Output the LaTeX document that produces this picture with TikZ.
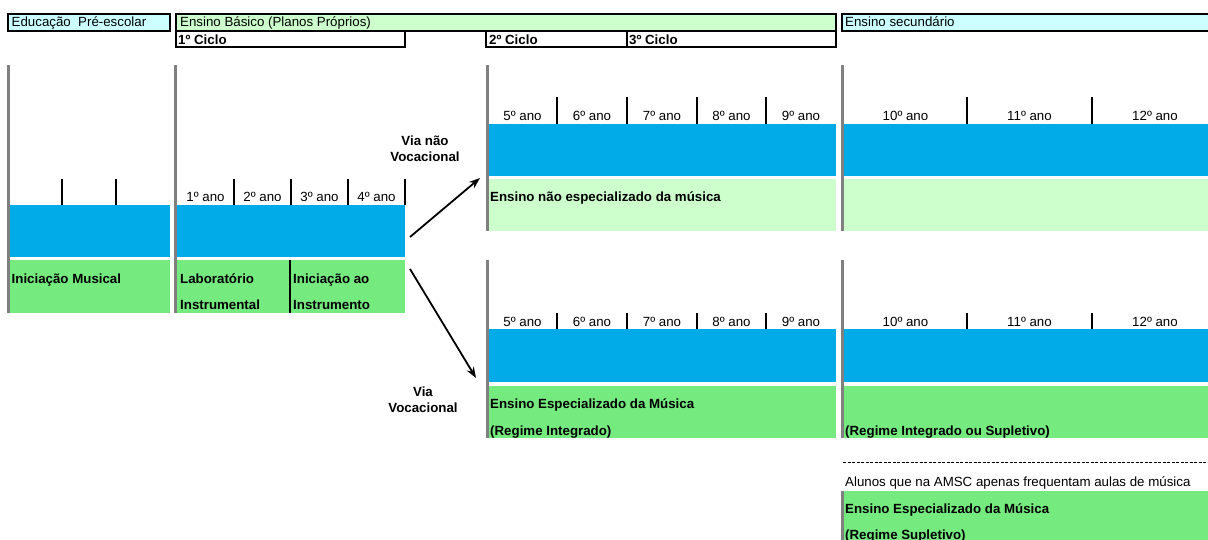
\documentclass[tikz,border=0pt]{standalone}
\usepackage{fontspec}
\setmainfont{Liberation Sans}
\usetikzlibrary{arrows.meta}

\definecolor{azul}{RGB}{0,171,231}
\definecolor{verde}{RGB}{117,234,126}
\definecolor{verdeclaro}{RGB}{204,255,204}
\definecolor{ciano}{RGB}{204,255,255}
\definecolor{cinza}{RGB}{128,128,128}

\begin{document}
\begin{tikzpicture}[x=1pt,y=-1pt,
  texto/.style={font=\fontsize{13.3}{15}\selectfont,inner sep=0pt,anchor=base west},
  negrito/.style={texto,font=\fontsize{13.3}{15}\selectfont\bfseries},
  ano/.style={texto,anchor=base},
  barra/.style={cinza,line width=3pt},
  marca/.style={black,line width=2pt},
  cabec/.style={draw=black,line width=1.8pt},
  seta/.style={line width=1.8pt,-{Stealth[length=11pt,width=8pt]}}]
  \useasboundingbox (0,0) rectangle (1208,539);
  \clip (0,0) rectangle (1208,539);

  \filldraw[cabec,fill=ciano] (8,14) rectangle (170,31);
  \filldraw[cabec,fill=verdeclaro] (176,14) rectangle (836,31);
  \filldraw[cabec,fill=ciano] (842,14) rectangle (1212,31);
  \draw[cabec] (176,31) rectangle (405,47);
  \draw[cabec] (486,31) rectangle (627,47) (627,31) rectangle (836,47);
  \node[texto] (pre) at (11.5,26.7) {Educação\ \ Pré-escolar};
  \node[texto] (basico) at (180,26.7) {Ensino Básico (Planos Próprios)};
  \node[texto] (secund) at (845,26.7) {Ensino secundário};
  \node[negrito] (ciclo1) at (178,44.3) {1º Ciclo};
  \node[negrito] (ciclo2) at (489,44.3) {2º Ciclo};
  \node[negrito] (ciclo3) at (629,44.3) {3º Ciclo};

  % pre-escolar e 1o ciclo
  \fill[azul] (10,205) rectangle (170,256.5);
  \fill[verde] (10,260) rectangle (170,312.5);
  \fill[azul] (177,205) rectangle (405,256.5);
  \fill[verde] (177,260) rectangle (405,312.5);
  \draw[marca] (62,179) -- (62,205) (116,179) -- (116,205);
  \foreach \x in {234,291,348,405} \draw[marca] (\x,179) -- (\x,205);
  \foreach \n/\x in {1/205.5,2/262.5,3/319.5,4/376.5}
    \node[ano] (ano\n) at (\x,201.7) {{\n}º ano};
  \draw[marca] (290,260) -- (290,312.5);
  \node[negrito] (inicmus) at (11.5,283.3) {Iniciação Musical};
  \node[negrito] (lab1) at (180,283.3) {Laboratório};
  \node[negrito] (lab2) at (180,309.3) {Instrumental};
  \node[negrito] (inst1) at (293,283.3) {Iniciação ao};
  \node[negrito] (inst2) at (293,309.3) {Instrumento};

  % via nao vocacional
  \fill[azul] (489,124) rectangle (836,176);
  \fill[verdeclaro] (489,179) rectangle (836,230.5);
  \fill[azul] (844,124) rectangle (1208,176);
  \fill[verdeclaro] (844,179) rectangle (1208,230.5);
  \foreach \x in {557,627,697,766,967,1092} \draw[marca] (\x,97) -- (\x,124);
  \foreach \n/\x in {5/522.5,6/592,7/662,8/731.5,9/801,10/905.5,11/1029.5,12/1155}
    \node[ano] (cima\n) at (\x,120.7) {{\n}º ano};
  \node[negrito] (naoesp) at (490,201.7) {Ensino não especializado da música};
  \node[negrito,anchor=base] (via1a) at (425,145) {Via não};
  \node[negrito,anchor=base] (via1b) at (425,161.7) {Vocacional};

  % via vocacional
  \fill[azul] (489,329) rectangle (836,382);
  \fill[verde] (489,386) rectangle (836,438);
  \fill[azul] (844,329) rectangle (1208,382);
  \fill[verde] (844,386) rectangle (1208,438);
  \foreach \x in {557,627,697,766,967,1092} \draw[marca] (\x,313) -- (\x,329);
  \foreach \n/\x in {5/522.5,6/592,7/662,8/731.5,9/801,10/905.5,11/1029.5,12/1155}
    \node[ano] (baixo\n) at (\x,326.7) {{\n}º ano};
  \node[negrito] (esp1) at (490,408.3) {Ensino Especializado da Música};
  \node[negrito] (esp2) at (490,435) {(Regime Integrado)};
  \node[negrito] (esp3) at (845,435) {(Regime Integrado ou Supletivo)};
  \node[negrito,anchor=base] (via2a) at (423,396) {Via};
  \node[negrito,anchor=base] (via2b) at (423,412.7) {Vocacional};

  % supletivo
  \draw[black,line width=1.5pt,dash pattern=on 3pt off 1.5pt] (843,462.7) -- (1208,462.7);
  \node[texto] (alunos) at (845,486.7) {Alunos que na AMSC apenas frequentam aulas de música};
  \fill[verde] (844,491) rectangle (1208,545);
  \node[negrito] (esp4) at (845,513.5) {Ensino Especializado da Música};
  \node[negrito] (esp5) at (845,539) {(Regime Supletivo)};

  \draw[barra] (8.7,65) -- (8.7,312.5);
  \draw[barra] (175.3,65) -- (175.3,312.5);
  \draw[barra] (487.5,65) -- (487.5,230.5);
  \draw[barra] (842.5,65) -- (842.5,230.5);
  \draw[barra] (487.5,260) -- (487.5,438);
  \draw[barra] (842.5,260) -- (842.5,438);
  \draw[barra] (842.5,491) -- (842.5,545);

  \coordinate (partida1) at (410,237);
  \coordinate (chegada1) at (480,178);
  \coordinate (partida2) at (410,269);
  \coordinate (chegada2) at (476,378);
  \draw[seta] (partida1) -- (chegada1);
  \draw[seta] (partida2) -- (chegada2);
\end{tikzpicture}
\end{document}
